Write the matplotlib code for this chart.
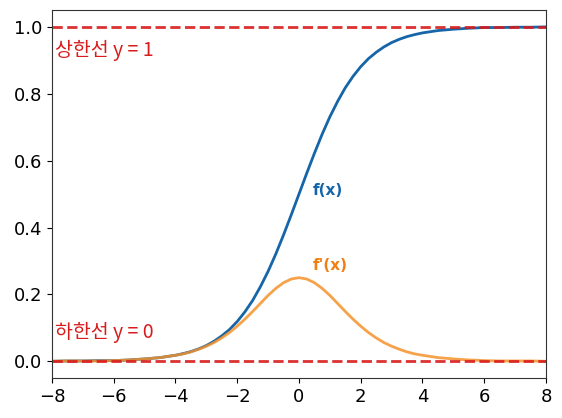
import matplotlib
matplotlib.use("Agg")
import matplotlib.pyplot as plt

plt.rcParams["font.family"] = ["DejaVu Sans", "Noto Sans CJK KR"]

# values
xs = [-8, -7.5, -7, -6.5, -6, -5.5, -5, -4.5, -4, -3.75, -3.5, -3.25, -3,
      -2.75, -2.5, -2.25, -2, -1.75, -1.5, -1.25, -1, -0.75, -0.5, -0.25, 0,
      0.25, 0.5, 0.75, 1, 1.25, 1.5, 1.75, 2, 2.25, 2.5, 2.75, 3, 3.25, 3.5,
      3.75, 4, 4.5, 5, 5.5, 6, 6.5, 7, 7.5, 8]
f_vals = [0.000, 0.001, 0.001, 0.002, 0.002, 0.004, 0.007, 0.011, 0.018,
          0.023, 0.029, 0.037, 0.047, 0.060, 0.076, 0.095, 0.119, 0.148,
          0.182, 0.223, 0.269, 0.321, 0.378, 0.438, 0.500, 0.562, 0.622,
          0.679, 0.731, 0.777, 0.818, 0.852, 0.881, 0.905, 0.924, 0.940,
          0.953, 0.963, 0.971, 0.977, 0.982, 0.989, 0.993, 0.996, 0.998,
          0.998, 0.999, 0.999, 1.000]
df_vals = [0.000, 0.001, 0.001, 0.001, 0.002, 0.004, 0.007, 0.011, 0.018,
           0.022, 0.028, 0.036, 0.045, 0.056, 0.070, 0.086, 0.105, 0.126,
           0.149, 0.173, 0.197, 0.218, 0.235, 0.246, 0.250, 0.246, 0.235,
           0.218, 0.197, 0.173, 0.149, 0.126, 0.105, 0.086, 0.070, 0.056,
           0.045, 0.036, 0.028, 0.022, 0.018, 0.011, 0.007, 0.004, 0.002,
           0.001, 0.001, 0.001, 0.000]
upper, lower = 1, 0

BLUE = "#1565a8"
ORANGE = "#f5922a"
RED = "#d81b1b"
KR = ["Noto Sans CJK KR", "DejaVu Sans"]

fig = plt.figure(figsize=(5.62, 4.18), dpi=100)
ax = fig.add_axes([0.0925, 0.0957, 0.879, 0.880])

ax.plot(xs, f_vals, color=BLUE, lw=2)
ax.plot(xs, df_vals, color=ORANGE, lw=2, alpha=0.85)
ax.axhline(upper, color=RED, ls="--", lw=2, alpha=0.9)
ax.axhline(lower, color=RED, ls="--", lw=2, alpha=0.9)

ax.text(-7.9, 0.93, "상한선 y = 1", color=RED, fontsize=14, va="center",
        family=KR)
ax.text(-7.9, 0.085, "하한선 y = 0", color=RED, fontsize=14, va="center",
        family=KR)
ax.text(0.45, 0.51, "f(x)", color=BLUE, fontsize=11, fontweight="bold",
        va="center")
ax.text(0.45, 0.285, "f'(x)", color="#f07f12", fontsize=11,
        fontweight="bold", va="center")

ax.set_xlim(-8, 8)
ax.set_ylim(-0.05, 1.05)
ax.set_yticks([0.0, 0.2, 0.4, 0.6, 0.8, 1.0])
ax.tick_params(labelsize=13)
for sp in ax.spines.values():
    sp.set_color("#333333")

fig.savefig("out.png", dpi=100)
